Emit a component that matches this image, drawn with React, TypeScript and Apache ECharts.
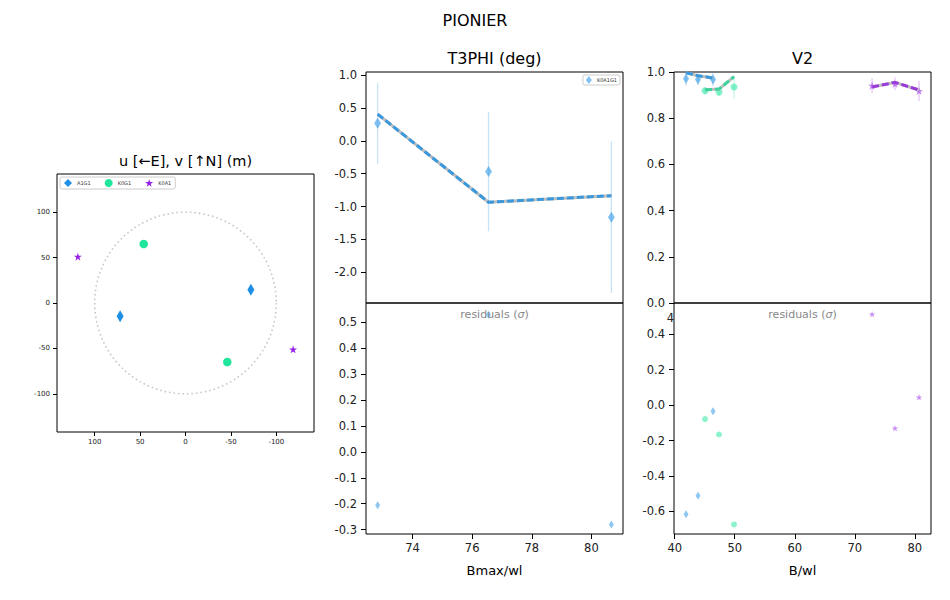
import React, { useEffect, useRef } from 'react';
import * as echarts from 'echarts';

const FONT = 'DejaVu Sans';

// ---- u,v plane ----
const baselines = ['A1G1', 'K0G1', 'K0A1'];
const uA1G1 = [72, -72];
const vA1G1 = [-14.5, 14.5];
const uK0G1 = [46, -46];
const vK0G1 = [65, -65];
const uK0A1 = [118.5, -118.5];
const vK0A1 = [51, -51];
const uvTicks = [-100, -50, 0, 50, 100];
const uvRefRadius = 100;

// ---- T3PHI ----
const t3Name = 'K0A1G1';
const t3Bmax = [72.83, 76.55, 80.67];
const t3Phi = [0.27, -0.468, -1.163];
const t3Err = [0.62, 0.91, 1.155];
const t3Model = [0.407, -0.934, -0.834];
const t3Resid = [-0.206, 0.53, -0.28];
const t3XTicks = [74, 76, 78, 80];
const t3YTicks = [-2.0, -1.5, -1.0, -0.5, 0.0, 0.5, 1.0];
const t3ResTicks = [-0.3, -0.2, -0.1, 0.0, 0.1, 0.2, 0.3, 0.4, 0.5];

// ---- V2 ----
const v2B_A1G1 = [41.88, 43.88, 46.38];
const v2_A1G1 = [0.971, 0.968, 0.968];
const v2Err_A1G1 = [0.03, 0.025, 0.03];
const v2Model_A1G1 = [0.997, 0.984, 0.974];
const v2Res_A1G1 = [-0.617, -0.512, -0.034];

const v2B_K0G1 = [45.05, 47.38, 49.88];
const v2_K0G1 = [0.919, 0.913, 0.935];
const v2Err_K0G1 = [0.015, 0.015, 0.05];
const v2Model_K0G1 = [0.923, 0.926, 0.98];
const v2Res_K0G1 = [-0.079, -0.166, -0.674];

const v2B_K0A1 = [72.88, 76.7, 80.7];
const v2_K0A1 = [0.941, 0.949, 0.918];
const v2Err_K0A1 = [0.032, 0.027, 0.043];
const v2Model_K0A1 = [0.935, 0.955, 0.922];
const v2Res_K0A1 = [0.514, -0.13, 0.045];

const v2XTicks = [40, 50, 60, 70, 80];
const v2YTicks = [0.0, 0.2, 0.4, 0.6, 0.8, 1.0];
const v2ResTicks = [-0.6, -0.4, -0.2, 0.0, 0.2, 0.4];

const C_BLUE = '#1e8fe4';
const C_GREEN = '#1fe69a';
const C_PURPLE = '#961ee6';
const L_BLUE = '#3a98dc';
const L_GREEN = '#3dd39c';
const L_PURPLE = '#9a3ad8';
const GREY = '#bdbdbd';

const STAR =
  'path://M0,-10L2.245,-3.09L9.511,-3.09L3.633,1.18L5.878,8.09L0,3.82L-5.878,8.09L-3.633,1.18L-9.511,-3.09L-2.245,-3.09Z';

const zip = (xs: number[], ys: number[]) => xs.map((x, i) => [x, ys[i]]);

function axisCfg(
  gridIndex: number,
  min: number,
  max: number,
  ticks: number[] | null,
  o: any = {}
) {
  return {
    type: 'value',
    gridIndex,
    min,
    max,
    inverse: !!o.inverse,
    name: o.name,
    nameLocation: 'middle',
    nameGap: o.nameGap ?? 30,
    nameTextStyle: { fontFamily: FONT, fontSize: 13, color: '#000' },
    axisLine: { show: false, onZero: false },
    splitLine: { show: false },
    axisTick: ticks
      ? {
          show: true,
          length: o.tickLen ?? 5,
          lineStyle: { color: '#000', width: 1 },
          customValues: ticks,
        }
      : { show: false },
    axisLabel: ticks
      ? {
          show: true,
          customValues: ticks,
          fontFamily: FONT,
          fontSize: o.fontSize ?? 11.5,
          color: '#222',
          margin: o.margin ?? 9,
          formatter: o.fmt ?? ((v: number) => String(v)),
        }
      : { show: false },
  };
}

const f1 = (v: number) => v.toFixed(1);
const f0 = (v: number) => v.toFixed(0);

function errorBars(name: string, xi: number, xs: number[], ys: number[], es: number[], color: string) {
  return {
    type: 'custom',
    name,
    xAxisIndex: xi,
    yAxisIndex: xi,
    z: 1,
    silent: true,
    data: xs.map((x, i) => [x, ys[i], es[i]]),
    renderItem: (_p: any, api: any) => {
      const x = api.value(0);
      const y = api.value(1);
      const e = api.value(2);
      const a = api.coord([x, y - e]);
      const b = api.coord([x, y + e]);
      return {
        type: 'line',
        shape: { x1: a[0], y1: a[1], x2: b[0], y2: b[1] },
        style: { stroke: color, lineWidth: 1.3, opacity: 0.25 },
      };
    },
  };
}

function modelLines(name: string, xi: number, xs: number[], ys: number[], color: string) {
  return [
    {
      type: 'line',
      name: name + ' model grey',
      xAxisIndex: xi,
      yAxisIndex: xi,
      data: zip(xs, ys),
      symbol: 'none',
      z: 3,
      silent: true,
      lineStyle: { color: GREY, width: 3 },
    },
    {
      type: 'line',
      name: name + ' model',
      xAxisIndex: xi,
      yAxisIndex: xi,
      data: zip(xs, ys),
      symbol: 'none',
      z: 4,
      silent: true,
      lineStyle: { color, width: 3, type: [7, 3] },
    },
  ];
}

function scatter(name: string, xi: number, data: number[][], symbol: string, size: any, color: string, opacity: number) {
  return {
    type: 'scatter',
    name,
    xAxisIndex: xi,
    yAxisIndex: xi,
    data,
    symbol,
    symbolSize: size,
    z: 2,
    silent: true,
    itemStyle: { color, opacity },
  };
}

export default function App() {
  const ref = useRef<HTMLDivElement>(null);

  useEffect(() => {
    if (!ref.current) return;
    const chart = echarts.init(ref.current, undefined, { renderer: 'svg' });

    const gridBase = { show: true, borderColor: '#000', borderWidth: 1, containLabel: false };
    const resText = {
      text: 'residuals ({i|σ})',
      rich: { i: { fontStyle: 'italic', fontFamily: FONT, fontSize: 11, fill: '#888' } },
      fontFamily: FONT,
      fontSize: 11,
      fill: '#888',
      textAlign: 'center',
      textVerticalAlign: 'middle',
    };

    const option: any = {
      animation: false,
      backgroundColor: '#fff',
      textStyle: { fontFamily: FONT },
      grid: [
        { ...gridBase, left: 57, top: 174, width: 257, height: 258 },
        { ...gridBase, left: 366, top: 72, width: 257, height: 231 },
        { ...gridBase, left: 366, top: 303, width: 257, height: 231 },
        { ...gridBase, left: 674, top: 72, width: 257, height: 231 },
        { ...gridBase, left: 674, top: 303, width: 257, height: 231 },
      ],
      xAxis: [
        axisCfg(0, -141.5, 141.5, uvTicks, { inverse: true, fontSize: 7, tickLen: 4, margin: 6, fmt: f0 }),
        axisCfg(1, 72.44, 81.06, null),
        axisCfg(2, 72.44, 81.06, t3XTicks, { name: 'Bmax/wl', nameGap: 30, margin: 8, fmt: f0 }),
        axisCfg(3, 39.88, 82.7, null),
        axisCfg(4, 39.88, 82.7, v2XTicks, { name: 'B/wl', nameGap: 30, margin: 8, fmt: f0 }),
      ],
      yAxis: [
        axisCfg(0, -142, 142, uvTicks, { fontSize: 7, tickLen: 4, margin: 7, fmt: f0 }),
        axisCfg(1, -2.47, 1.05, t3YTicks, { fmt: f1 }),
        axisCfg(2, -0.317, 0.575, t3ResTicks, { fmt: f1 }),
        axisCfg(3, 0, 1, v2YTicks, { fmt: f1 }),
        axisCfg(4, -0.728, 0.577, v2ResTicks, { fmt: f1 }),
      ],
      legend: [
        {
          left: 60,
          top: 177,
          orient: 'horizontal',
          data: baselines,
          itemWidth: 8,
          itemHeight: 8,
          itemGap: 14,
          padding: [2, 4],
          borderColor: '#cccccc',
          borderWidth: 1,
          borderRadius: 2,
          backgroundColor: '#fff',
          selectedMode: false,
          textStyle: { fontFamily: FONT, fontSize: 5, color: '#333' },
        },
        {
          right: 330,
          top: 75,
          orient: 'horizontal',
          data: [t3Name],
          itemWidth: 6,
          itemHeight: 8,
          padding: [1, 3],
          borderColor: '#cccccc',
          borderWidth: 1,
          borderRadius: 2,
          backgroundColor: '#fff',
          selectedMode: false,
          textStyle: { fontFamily: FONT, fontSize: 5, color: '#333' },
        },
      ],
      graphic: [
        { type: 'text', x: 475, y: 20, style: { text: 'PIONIER', fontFamily: FONT, fontSize: 16, fill: '#000', textAlign: 'center', textVerticalAlign: 'middle' } },
        { type: 'text', x: 185.5, y: 161, style: { text: 'u [←E], v [↑N] (m)', fontFamily: FONT, fontSize: 14.5, fill: '#000', textAlign: 'center', textVerticalAlign: 'middle' } },
        { type: 'text', x: 494.5, y: 58, style: { text: 'T3PHI (deg)', fontFamily: FONT, fontSize: 16, fill: '#000', textAlign: 'center', textVerticalAlign: 'middle' } },
        { type: 'text', x: 802.5, y: 58, style: { text: 'V2', fontFamily: FONT, fontSize: 16, fill: '#000', textAlign: 'center', textVerticalAlign: 'middle' } },
        { type: 'text', x: 494.5, y: 314, z: 10, style: resText },
        { type: 'text', x: 802.5, y: 314, z: 10, style: resText },
        { type: 'text', x: 674, y: 318, style: { text: '4', fontFamily: FONT, fontSize: 11.5, fill: '#222', textAlign: 'right', textVerticalAlign: 'middle' } },
      ],
      series: [
        // u,v reference circle
        {
          type: 'custom',
          name: 'uv circle',
          xAxisIndex: 0,
          yAxisIndex: 0,
          silent: true,
          z: 1,
          data: [[0, 0, uvRefRadius]],
          renderItem: (_p: any, api: any) => {
            const c = api.coord([api.value(0), api.value(1)]);
            const r = Math.abs(api.size([api.value(2), 0])[0]);
            return {
              type: 'circle',
              shape: { cx: c[0], cy: c[1], r },
              style: { fill: 'none', stroke: '#c8c8c8', lineWidth: 1.6, lineDash: [1.6, 2.9] },
            };
          },
        },
        scatter('A1G1', 0, zip(uA1G1, vA1G1), 'diamond', [7, 12], C_BLUE, 1),
        scatter('K0G1', 0, zip(uK0G1, vK0G1), 'circle', 8.5, C_GREEN, 1),
        scatter('K0A1', 0, zip(uK0A1, vK0A1), STAR, 8, C_PURPLE, 1),

        // T3PHI
        errorBars('t3 err', 1, t3Bmax, t3Phi, t3Err, C_BLUE),
        ...modelLines('t3', 1, t3Bmax, t3Model, L_BLUE),
        scatter(t3Name, 1, zip(t3Bmax, t3Phi), 'diamond', [7, 11], C_BLUE, 0.55),
        scatter('t3 res', 2, zip(t3Bmax, t3Resid), 'diamond', [5, 8], C_BLUE, 0.5),

        // V2
        errorBars('v2 err A1G1', 3, v2B_A1G1, v2_A1G1, v2Err_A1G1, C_BLUE),
        errorBars('v2 err K0G1', 3, v2B_K0G1, v2_K0G1, v2Err_K0G1, C_GREEN),
        errorBars('v2 err K0A1', 3, v2B_K0A1, v2_K0A1, v2Err_K0A1, C_PURPLE),
        scatter('v2 A1G1', 3, zip(v2B_A1G1, v2_A1G1), 'diamond', [6, 10], C_BLUE, 0.55),
        scatter('v2 K0G1', 3, zip(v2B_K0G1, v2_K0G1), 'circle', 7, C_GREEN, 0.55),
        scatter('v2 K0A1', 3, zip(v2B_K0A1, v2_K0A1), STAR, 8, C_PURPLE, 0.55),
        ...modelLines('v2 A1G1', 3, v2B_A1G1, v2Model_A1G1, L_BLUE),
        ...modelLines('v2 K0G1', 3, v2B_K0G1, v2Model_K0G1, L_GREEN),
        ...modelLines('v2 K0A1', 3, v2B_K0A1, v2Model_K0A1, L_PURPLE),
        scatter('v2 res A1G1', 4, zip(v2B_A1G1, v2Res_A1G1), 'diamond', [5, 8], C_BLUE, 0.5),
        scatter('v2 res K0G1', 4, zip(v2B_K0G1, v2Res_K0G1), 'circle', 6, C_GREEN, 0.5),
        scatter('v2 res K0A1', 4, zip(v2B_K0A1, v2Res_K0A1), STAR, 6.5, C_PURPLE, 0.5),
      ],
    };

    chart.setOption(option);
    return () => chart.dispose();
  }, []);

  return (
    <div
      ref={ref}
      style={{ position: 'absolute', left: 0, top: 0, width: 950, height: 600, background: '#fff' }}
    />
  );
}
